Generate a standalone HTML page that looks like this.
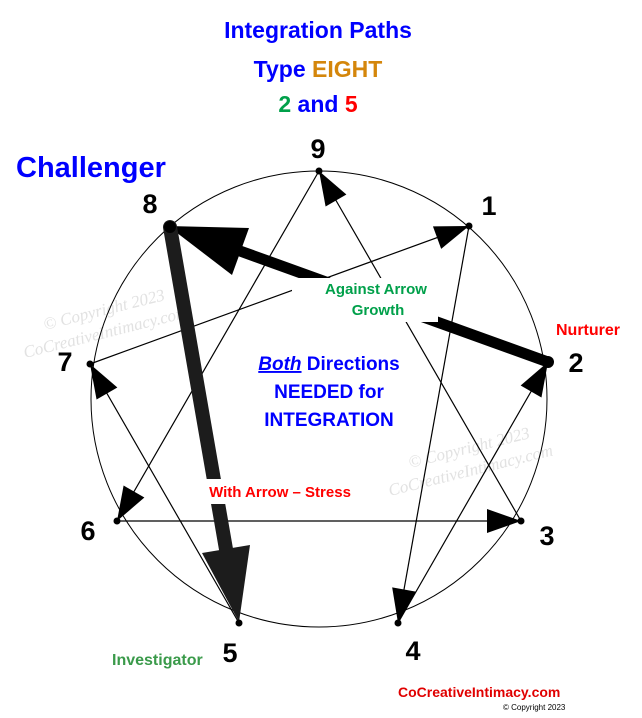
<!DOCTYPE html>
<html><head><meta charset="utf-8"><style>
html,body{margin:0;padding:0;background:#fff;}
svg{display:block;}
</style></head><body>
<svg id="s" width="642" height="718" viewBox="0 0 642 718" xmlns="http://www.w3.org/2000/svg" font-family="Liberation Sans, sans-serif">
<rect width="642" height="718" fill="#fff"/>
<g fill="#e2e2e2" font-family="Liberation Serif, serif" font-style="italic" font-size="17">
<text x="45" y="330" transform="rotate(-14 45 330)">© Copyright 2023</text>
<text x="25" y="358" transform="rotate(-14 25 358)">CoCreativeIntimacy.com</text>
<text x="410" y="468" transform="rotate(-14 410 468)">© Copyright 2023</text>
<text x="390" y="496" transform="rotate(-14 390 496)">CoCreativeIntimacy.com</text>
</g>
<circle cx="319" cy="399" r="228" fill="none" stroke="#000" stroke-width="1"/>
<g id="lines" stroke="#000" stroke-width="1.2" fill="none"></g>
<g id="heads" fill="#000"></g>
<line x1="548" y1="362" x2="240" y2="251" stroke="#000" stroke-width="11" stroke-linecap="round"/>
<polygon points="168,226 249,228 232,275" fill="#000"/>
<line x1="170" y1="227" x2="227" y2="555" stroke="#1c1c1c" stroke-width="14" stroke-linecap="round"/>
<polygon points="202,553 250,545 239,622" fill="#1c1c1c"/>
<rect x="292" y="278" width="146" height="44" fill="#fff"/>
<rect x="200" y="479" width="160" height="25" fill="#fff"/>
<g id="dots" fill="#000"></g>
<circle cx="170" cy="227" r="6" fill="#000"/>
<circle cx="548" cy="362" r="6" fill="#000"/>
<g font-family="Liberation Sans, sans-serif" font-weight="bold" text-anchor="middle">
<text x="318" y="38" font-size="23" fill="#0000ff">Integration Paths</text>
<text x="318" y="77" font-size="23" fill="#0000ff">Type <tspan fill="#d4860b">EIGHT</tspan></text>
<text x="318" y="112" font-size="23" fill="#0000ff"><tspan fill="#00a04a">2</tspan> and <tspan fill="#ff0000">5</tspan></text>
<text x="376" y="294" font-size="15" fill="#00a04a">Against Arrow</text>
<text x="378" y="315" font-size="15" fill="#00a04a">Growth</text>
<text x="329" y="370" font-size="19" fill="#0000ff"><tspan font-style="italic" text-decoration="underline">Both</tspan> Directions</text>
<text x="329" y="398" font-size="19" fill="#0000ff">NEEDED for</text>
<text x="329" y="426" font-size="19" fill="#0000ff">INTEGRATION</text>
<text x="280" y="497" font-size="15" fill="#ff0000">With Arrow – Stress</text>
</g>
<text x="16" y="177" font-size="29" font-weight="bold" fill="#0000ff">Challenger</text>
<text x="556" y="335" font-size="16" font-weight="bold" fill="#ff0000">Nurturer</text>
<text x="112" y="665" font-size="16" font-weight="bold" fill="#3a9a4a">Investigator</text>
<text x="398" y="697" font-size="14" font-weight="bold" fill="#e00000">CoCreativeIntimacy.com</text>
<text x="503" y="710" font-size="8" fill="#000">© Copyright 2023</text>
<g font-size="27" font-weight="bold" fill="#000" text-anchor="middle">
<text x="318" y="158">9</text>
<text x="489" y="215">1</text>
<text x="150" y="213">8</text>
<text x="576" y="372">2</text>
<text x="65" y="371">7</text>
<text x="547" y="545">3</text>
<text x="88" y="540">6</text>
<text x="413" y="660">4</text>
<text x="230" y="662">5</text>
</g>
</svg>
<script>
var P={9:[319,171],1:[469,226],2:[548,362],3:[521,521],4:[398,623],5:[239,623],6:[117,521],7:[90,364],8:[170,227]};
var ns="http://www.w3.org/2000/svg";
var L=document.getElementById('lines'),H=document.getElementById('heads'),D=document.getElementById('dots');
var arrows=[[3,9],[9,6],[6,3],[7,1],[1,4],[4,2],[5,7]];
arrows.forEach(function(a){
 var p=P[a[0]],q=P[a[1]];
 var l=document.createElementNS(ns,'line');
 l.setAttribute('x1',p[0]);l.setAttribute('y1',p[1]);l.setAttribute('x2',q[0]);l.setAttribute('y2',q[1]);
 L.appendChild(l);
 var dx=q[0]-p[0],dy=q[1]-p[1],len=Math.hypot(dx,dy),ux=dx/len,uy=dy/len;
 var hl=34,hw=12;
 var bx=q[0]-ux*hl,by=q[1]-uy*hl;
 var pg=document.createElementNS(ns,'polygon');
 pg.setAttribute('points',q[0]+','+q[1]+' '+(bx-uy*hw)+','+(by+ux*hw)+' '+(bx+uy*hw)+','+(by-ux*hw));
 H.appendChild(pg);
});
for(var k in P){var c=document.createElementNS(ns,'circle');c.setAttribute('cx',P[k][0]);c.setAttribute('cy',P[k][1]);c.setAttribute('r',3.5);D.appendChild(c);}
</script>
</body></html>
